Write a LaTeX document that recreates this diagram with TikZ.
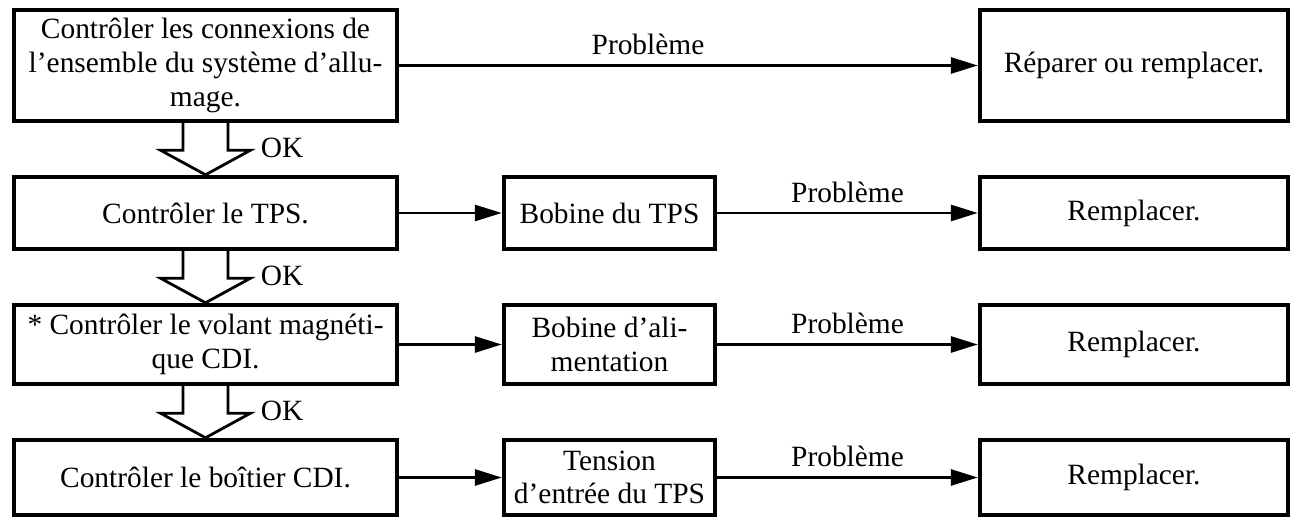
\documentclass[tikz,border=0pt]{standalone}
\usepackage{fontspec}
\setmainfont{Liberation Serif}
\usepackage{tikz}
\usetikzlibrary{arrows.meta, positioning, calc}

\tikzset{
  stepbox/.style={draw, line width=2.2pt, align=center, inner sep=0pt,
                  font=\fontsize{14.7}{16.8}\selectfont},
  leftbox/.style={stepbox, minimum width=191.5pt},
  midbox/.style={stepbox, minimum width=105.5pt},
  rightbox/.style={stepbox, minimum width=154pt},
  conn/.style={line width=1.4pt, -{Triangle[length=13.5pt, width=8pt]}},
  oklink/.style={draw, line width=1.4pt, fill=white, line join=miter},
  lab/.style={font=\fontsize{14.7}{16.8}\selectfont, inner sep=0pt}
}

\begin{document}
\begin{tikzpicture}[x=0.5pt, y=-0.5pt]
  \useasboundingbox (0,0) rectangle (1291,517);

  \node[leftbox, minimum height=55.5pt] (chk1) at (205.5,65.5)
       {Contrôler les connexions de\\l'ensemble du système d'allu-\\mage.};
  \node[rightbox, minimum height=55.5pt] (fix1) at (1134,65.5)
       {Réparer ou remplacer.};

  \node[leftbox, minimum height=36pt] (chk2) at (205.5,213) {Contrôler le TPS.};
  \node[midbox, minimum height=36pt] (cause2) at (609.5,213) {Bobine du TPS};
  \node[rightbox, minimum height=36pt] (fix2) at (1134,213) {Remplacer.};

  \node[leftbox, minimum height=39.5pt] (chk3) at (205.5,344.5)
       {* Contrôler le volant magnéti-\\que CDI.};
  \node[midbox, minimum height=39.5pt] (cause3) at (609.5,344.5)
       {Bobine d'ali-\\mentation};
  \node[rightbox, minimum height=39.5pt] (fix3) at (1134,344.5) {Remplacer.};

  \node[leftbox, minimum height=37.5pt] (chk4) at (205.5,477.5)
       {Contrôler le boîtier CDI.};
  \node[midbox, minimum height=37.5pt] (cause4) at (609.5,477.5)
       {Tension\\d'entrée du TPS};
  \node[rightbox, minimum height=37.5pt] (fix4) at (1134,477.5) {Remplacer.};

  \draw[conn] (chk1) -- (fix1) node[lab, pos=0.43, above=4.5pt]{Problème};
  \foreach \row in {2,3,4} {
    \draw[conn] (chk\row) -- (cause\row);
    \draw[conn] (cause\row) -- (fix\row) node[lab, midway, above=4.5pt]{Problème};
  }

  \foreach \a/\b in {1/2, 2/3, 3/4} {
    \draw[oklink] ($(chk\a.south)+(-22.5,0)$) -- ++(0,27) -- ++(-22.5,0)
          -- (chk\b.north) -- ($(chk\a.south)+(45,27)$) -- ++(-22.5,0) -- ++(0,-27);
    \node[lab, anchor=west] (ok\a) at ($(chk\a.south)+(55,25)$) {OK};
  }
\end{tikzpicture}
\end{document}
